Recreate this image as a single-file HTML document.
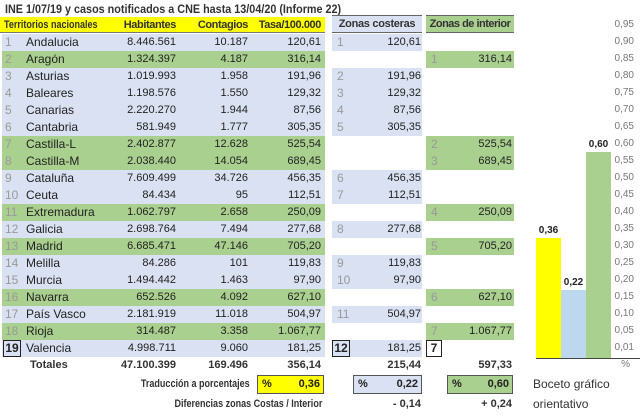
<!DOCTYPE html>
<html><head><meta charset="utf-8"><style>
*{margin:0;padding:0;box-sizing:border-box}
body{width:640px;height:415px;background:#fff;position:relative;overflow:hidden;font-family:"Liberation Sans",sans-serif;color:#222}
.a{position:absolute;white-space:nowrap}
.r{position:absolute;left:0;width:640px;height:17px;font-size:11px;line-height:17px}
.r>div{position:absolute;top:0;height:17px;white-space:nowrap}
.bg{left:2px;width:323px}
.B{background:#d9e1f2}.G{background:#a9d08e}
.n{left:5px;width:16px;color:#999;font-size:12px}
.nm{left:26px;font-size:12px}
.h{right:464px}.c{right:392px}.t{right:319px}
.cb{left:332px;width:90px}
.cn{left:337px;color:#999;font-size:12px}
.cv{right:219px}
.ib{left:426px;width:88px}
.in{left:431px;color:#999;font-size:12px}
.iv{right:128px}
.tk{position:absolute;right:6px;font-size:10px;color:#777;line-height:12px}
.sq{transform:scaleX(.82);transform-origin:left center}
.sr{transform:scaleX(.82);transform-origin:right center}
</style></head><body>
<div class="a" style="left:5px;top:2px;font-size:12px;font-weight:bold;color:#333;transform:scaleX(.9);transform-origin:left center">INE 1/07/19 y casos notificados a CNE hasta 13/04/20 (Informe 22)</div>
<div class="a" style="left:0;top:17px;width:325px;height:16px;background:#ffff00;border-bottom:1px solid #777"></div>
<div class="a sq" style="left:4px;top:18px;font-size:11px;font-weight:bold;color:#333;line-height:15px">Territorios nacionales</div>
<div class="a" style="right:464px;top:18px;font-size:11px;font-weight:bold;color:#333;line-height:15px;letter-spacing:-.4px">Habitantes</div>
<div class="a" style="right:392px;top:18px;font-size:11px;font-weight:bold;color:#333;line-height:15px;letter-spacing:-.4px">Contagios</div>
<div class="a" style="right:319px;top:18px;font-size:11px;font-weight:bold;color:#333;line-height:15px;letter-spacing:-.4px">Tasa/100.000</div>
<div class="a" style="left:332px;top:15px;width:90px;height:18px;background:#d9e1f2;border-top:1px solid #666;border-bottom:1px solid #666;font-size:11px;font-weight:bold;color:#333;text-align:center;line-height:16px;letter-spacing:-.3px">Zonas costeras</div>
<div class="a" style="left:426px;top:15px;width:88px;height:18px;background:#a9d08e;border-top:1px solid #666;border-bottom:1px solid #666;font-size:11px;font-weight:bold;color:#333;text-align:center;line-height:16px;letter-spacing:-.5px">Zonas de interior</div>

<div class="r" style="top:34px"><div class="bg B"></div><div class="n">1</div><div class="nm">Andalucia</div><div class="h">8.446.561</div><div class="c">10.187</div><div class="t">120,61</div><div class="cb B"></div><div class="cn">1</div><div class="cv">120,61</div></div>
<div class="r" style="top:51px"><div class="bg G"></div><div class="n">2</div><div class="nm">Aragón</div><div class="h">1.324.397</div><div class="c">4.187</div><div class="t">316,14</div><div class="ib G"></div><div class="in">1</div><div class="iv">316,14</div></div>
<div class="r" style="top:68px"><div class="bg B"></div><div class="n">3</div><div class="nm">Asturias</div><div class="h">1.019.993</div><div class="c">1.958</div><div class="t">191,96</div><div class="cb B"></div><div class="cn">2</div><div class="cv">191,96</div></div>
<div class="r" style="top:85px"><div class="bg B"></div><div class="n">4</div><div class="nm">Baleares</div><div class="h">1.198.576</div><div class="c">1.550</div><div class="t">129,32</div><div class="cb B"></div><div class="cn">3</div><div class="cv">129,32</div></div>
<div class="r" style="top:102px"><div class="bg B"></div><div class="n">5</div><div class="nm">Canarias</div><div class="h">2.220.270</div><div class="c">1.944</div><div class="t">87,56</div><div class="cb B"></div><div class="cn">4</div><div class="cv">87,56</div></div>
<div class="r" style="top:119px"><div class="bg B"></div><div class="n">6</div><div class="nm">Cantabria</div><div class="h">581.949</div><div class="c">1.777</div><div class="t">305,35</div><div class="cb B"></div><div class="cn">5</div><div class="cv">305,35</div></div>
<div class="r" style="top:136px"><div class="bg G"></div><div class="n">7</div><div class="nm">Castilla-L</div><div class="h">2.402.877</div><div class="c">12.628</div><div class="t">525,54</div><div class="ib G"></div><div class="in">2</div><div class="iv">525,54</div></div>
<div class="r" style="top:153px"><div class="bg G"></div><div class="n">8</div><div class="nm">Castilla-M</div><div class="h">2.038.440</div><div class="c">14.054</div><div class="t">689,45</div><div class="ib G"></div><div class="in">3</div><div class="iv">689,45</div></div>
<div class="r" style="top:170px"><div class="bg B"></div><div class="n">9</div><div class="nm">Cataluña</div><div class="h">7.609.499</div><div class="c">34.726</div><div class="t">456,35</div><div class="cb B"></div><div class="cn">6</div><div class="cv">456,35</div></div>
<div class="r" style="top:187px"><div class="bg B"></div><div class="n">10</div><div class="nm">Ceuta</div><div class="h">84.434</div><div class="c">95</div><div class="t">112,51</div><div class="cb B"></div><div class="cn">7</div><div class="cv">112,51</div></div>
<div class="r" style="top:204px"><div class="bg G"></div><div class="n">11</div><div class="nm">Extremadura</div><div class="h">1.062.797</div><div class="c">2.658</div><div class="t">250,09</div><div class="ib G"></div><div class="in">4</div><div class="iv">250,09</div></div>
<div class="r" style="top:221px"><div class="bg B"></div><div class="n">12</div><div class="nm">Galicia</div><div class="h">2.698.764</div><div class="c">7.494</div><div class="t">277,68</div><div class="cb B"></div><div class="cn">8</div><div class="cv">277,68</div></div>
<div class="r" style="top:238px"><div class="bg G"></div><div class="n">13</div><div class="nm">Madrid</div><div class="h">6.685.471</div><div class="c">47.146</div><div class="t">705,20</div><div class="ib G"></div><div class="in">5</div><div class="iv">705,20</div></div>
<div class="r" style="top:255px"><div class="bg B"></div><div class="n">14</div><div class="nm">Melilla</div><div class="h">84.286</div><div class="c">101</div><div class="t">119,83</div><div class="cb B"></div><div class="cn">9</div><div class="cv">119,83</div></div>
<div class="r" style="top:272px"><div class="bg B"></div><div class="n">15</div><div class="nm">Murcia</div><div class="h">1.494.442</div><div class="c">1.463</div><div class="t">97,90</div><div class="cb B"></div><div class="cn">10</div><div class="cv">97,90</div></div>
<div class="r" style="top:289px"><div class="bg G"></div><div class="n">16</div><div class="nm">Navarra</div><div class="h">652.526</div><div class="c">4.092</div><div class="t">627,10</div><div class="ib G"></div><div class="in">6</div><div class="iv">627,10</div></div>
<div class="r" style="top:306px"><div class="bg B"></div><div class="n">17</div><div class="nm">País Vasco</div><div class="h">2.181.919</div><div class="c">11.018</div><div class="t">504,97</div><div class="cb B"></div><div class="cn">11</div><div class="cv">504,97</div></div>
<div class="r" style="top:323px"><div class="bg G"></div><div class="n">18</div><div class="nm">Rioja</div><div class="h">314.487</div><div class="c">3.358</div><div class="t">1.067,77</div><div class="ib G"></div><div class="in">7</div><div class="iv">1.067,77</div></div>
<div class="r" style="top:340px"><div class="bg B"></div><div style="left:3px;width:18px;border:1px solid #222;background:#d9e1f2;font-weight:bold;font-size:12px;text-align:center;line-height:15px">19</div><div class="nm">Valencia</div><div class="h">4.998.711</div><div class="c">9.060</div><div class="t">181,25</div><div class="cb B"></div><div style="left:332px;width:18px;border:1px solid #222;font-weight:bold;font-size:12px;text-align:center;line-height:15px">12</div><div class="cv">181,25</div><div style="left:426px;width:16px;border:1px solid #222;background:#fff;font-weight:bold;font-size:12px;text-align:center;line-height:15px">7</div></div>

<div class="r" style="top:357px;font-weight:bold;color:#333"><div style="left:30px">Totales</div><div class="h">47.100.399</div><div class="c">169.496</div><div class="t">356,14</div><div class="cv">215,44</div><div class="iv">597,33</div></div>

<div class="a sr" style="right:390px;top:378px;font-size:11px;font-weight:bold;color:#333">Traducción a porcentajes</div>
<div class="a" style="left:257px;top:375px;width:67px;height:19px;background:#ffff00;border:1px solid #555;font-size:11px;font-weight:bold;line-height:17px"><span style="position:absolute;left:4px">%</span><span style="position:absolute;right:3px">0,36</span></div>
<div class="a" style="left:353px;top:375px;width:69px;height:19px;background:#d9e1f2;border:1px solid #555;font-size:11px;font-weight:bold;line-height:17px"><span style="position:absolute;left:4px">%</span><span style="position:absolute;right:3px">0,22</span></div>
<div class="a" style="left:447px;top:375px;width:66px;height:19px;background:#a9d08e;border:1px solid #555;font-size:11px;font-weight:bold;line-height:17px"><span style="position:absolute;left:4px">%</span><span style="position:absolute;right:3px">0,60</span></div>
<div class="a sr" style="right:318px;top:398px;font-size:11px;font-weight:bold;color:#333">Diferencias zonas Costas / Interior</div>
<div class="a" style="right:219px;top:398px;font-size:11px;font-weight:bold;color:#333">- 0,14</div>
<div class="a" style="right:128px;top:398px;font-size:11px;font-weight:bold;color:#333">+ 0,24</div>
<div class="a" style="left:533px;top:377px;font-size:12px;color:#333">Boceto gráfico</div>
<div class="a" style="left:533px;top:397px;font-size:12px;color:#333">orientativo</div>

<div class="a" style="left:536px;top:238px;width:25px;height:120px;background:#ffff00"></div>
<div class="a" style="left:561px;top:290px;width:25px;height:68px;background:#bdd7ee"></div>
<div class="a" style="left:586px;top:152px;width:25px;height:206px;background:#a9d08e"></div>
<div class="a" style="left:536px;top:358px;width:104px;height:1px;background:#444"></div>
<div class="a" style="left:536px;top:225px;width:25px;text-align:center;font-size:10px;font-weight:bold">0,36</div>
<div class="a" style="left:561px;top:277px;width:25px;text-align:center;font-size:10px;font-weight:bold">0,22</div>
<div class="a" style="left:584px;top:139px;width:29px;text-align:center;font-size:10px;font-weight:bold">0,60</div>
<div class="tk" style="top:19px">0,95</div><div class="tk" style="top:36px">0,90</div><div class="tk" style="top:53px">0,85</div><div class="tk" style="top:70px">0,80</div><div class="tk" style="top:87px">0,75</div><div class="tk" style="top:104px">0,70</div><div class="tk" style="top:121px">0,65</div><div class="tk" style="top:138px">0,60</div><div class="tk" style="top:155px">0,55</div><div class="tk" style="top:172px">0,50</div><div class="tk" style="top:189px">0,45</div><div class="tk" style="top:206px">0,40</div><div class="tk" style="top:223px">0,35</div><div class="tk" style="top:240px">0,30</div><div class="tk" style="top:257px">0,25</div><div class="tk" style="top:274px">0,20</div><div class="tk" style="top:291px">0,15</div><div class="tk" style="top:308px">0,10</div><div class="tk" style="top:325px">0,05</div><div class="tk" style="top:342px">0,01</div><div class="tk" style="top:359px;right:10px">%</div>
</body></html>
